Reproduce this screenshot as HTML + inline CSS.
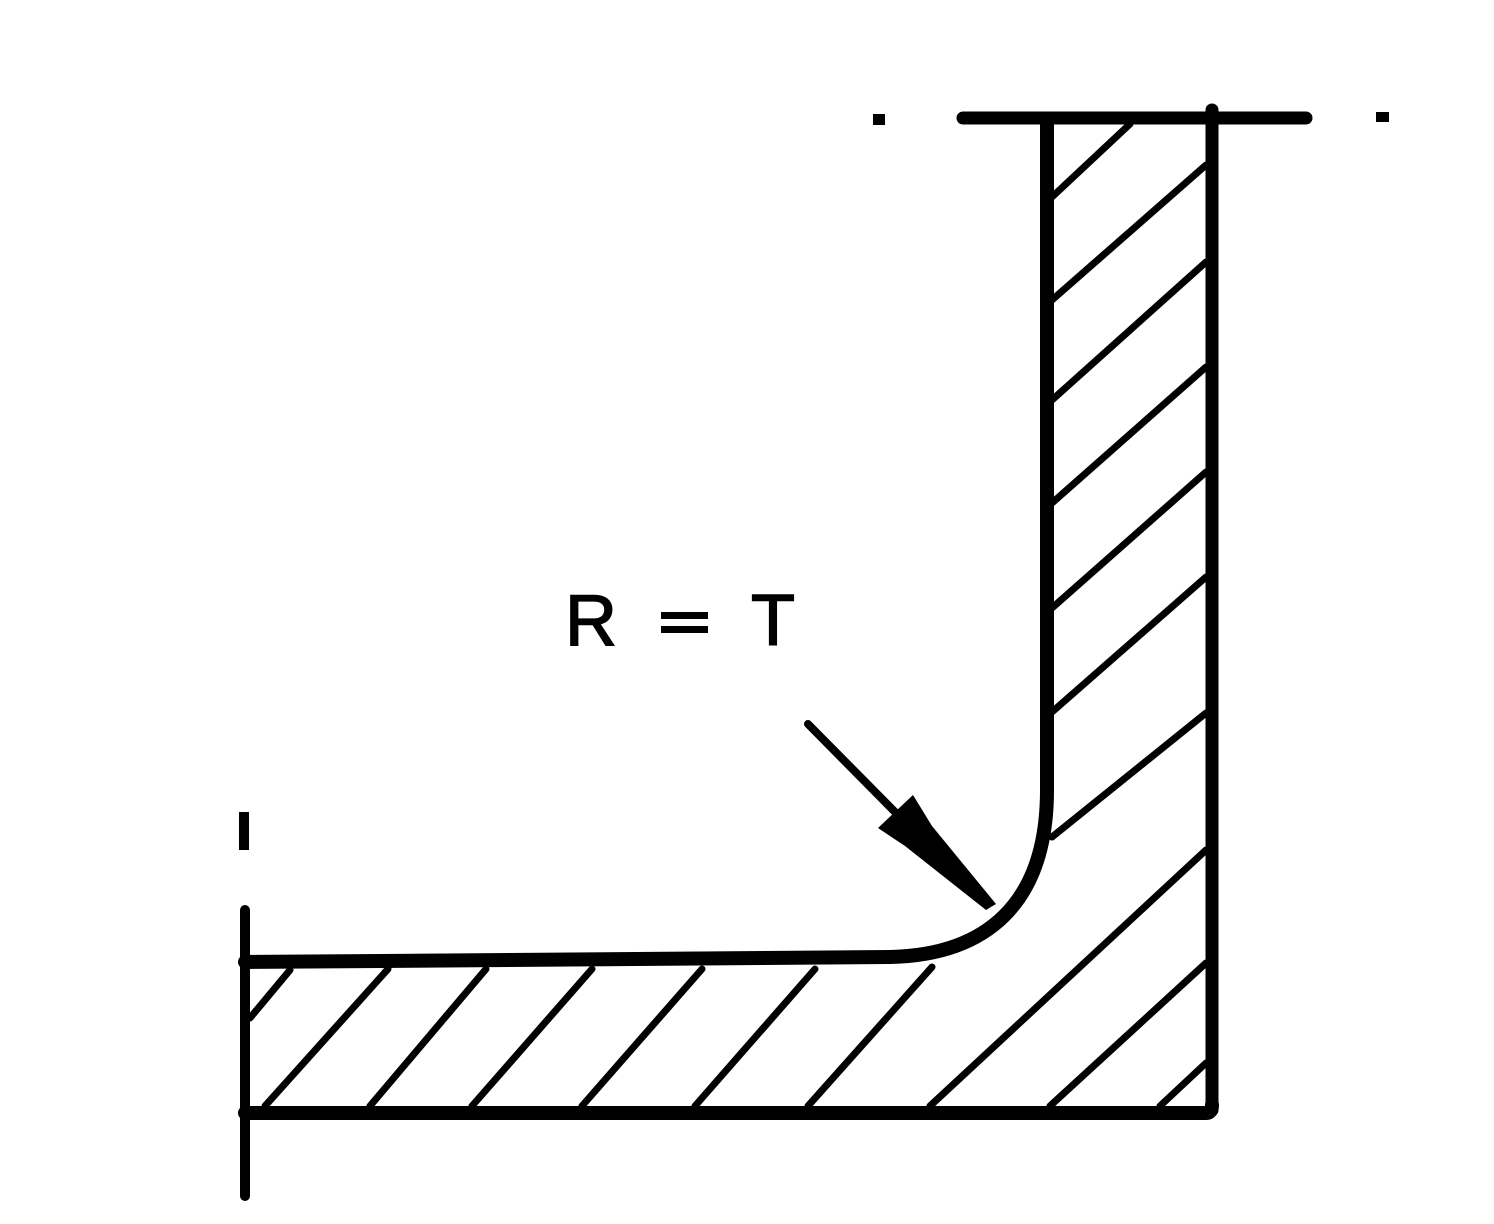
<!DOCTYPE html>
<html><head><style>html,body{margin:0;padding:0;background:#fff}svg{display:block}</style></head>
<body>
<svg width="1494" height="1224" viewBox="0 0 1494 1224" xmlns="http://www.w3.org/2000/svg">
<rect width="1494" height="1224" fill="#fff"/>
<g stroke="#000" fill="none" stroke-linecap="round" stroke-linejoin="round">
<line x1="963" y1="118" x2="1306" y2="118" stroke-width="13"/>
<line x1="1212" y1="110" x2="1212" y2="1110" stroke-width="13"/>
<line x1="245" y1="1113" x2="1205" y2="1113" stroke-width="14"/>
<path d="M1206,1113 Q1212,1113 1212,1105" stroke-width="14"/>
<path d="M1047,120 L1047,790 C1047,905 985,955 890,957 L245,962" stroke-width="14"/>
<line x1="245" y1="910" x2="245" y2="1196" stroke-width="10"/>
<line x1="244" y1="812" x2="244" y2="850" stroke-width="10" stroke-linecap="butt"/>
<g stroke-width="7">
<line x1="1052" y1="197" x2="1130" y2="124"/>
<line x1="1052" y1="300" x2="1206" y2="165"/>
<line x1="1052" y1="400" x2="1206" y2="262"/>
<line x1="1052" y1="503" x2="1206" y2="367"/>
<line x1="1052" y1="608" x2="1206" y2="472"/>
<line x1="1052" y1="712" x2="1206" y2="577"/>
<line x1="1052" y1="837" x2="1206" y2="713"/>
<line x1="930" y1="1106" x2="1206" y2="850"/>
<line x1="1050" y1="1106" x2="1206" y2="963"/>
<line x1="1160" y1="1106" x2="1206" y2="1063"/>
<line x1="250" y1="1018" x2="290" y2="970"/>
<line x1="265" y1="1106" x2="388" y2="969"/>
<line x1="370" y1="1106" x2="486" y2="969"/>
<line x1="472" y1="1106" x2="592" y2="969"/>
<line x1="582" y1="1106" x2="702" y2="969"/>
<line x1="695" y1="1106" x2="815" y2="969"/>
<line x1="808" y1="1106" x2="932" y2="967"/>
</g>
<line x1="808" y1="724" x2="895" y2="812" stroke-width="8"/>
</g>
<polygon points="878,828 913,795 932,826 996,904 986,910 905,846" fill="#000"/>
<rect x="873" y="114" width="12" height="11" fill="#000"/>
<rect x="1376" y="112" width="13" height="10" fill="#000"/>
<g style="font-family:'Liberation Sans',sans-serif" font-size="72" fill="#000" stroke="#000" stroke-width="1.5">
<text x="565" y="645">R</text>
<text x="751" y="645">T</text>
</g>
<rect x="661" y="612" width="47" height="7" fill="#000"/>
<rect x="661" y="626" width="47" height="7" fill="#000"/>
</svg>
</body></html>
